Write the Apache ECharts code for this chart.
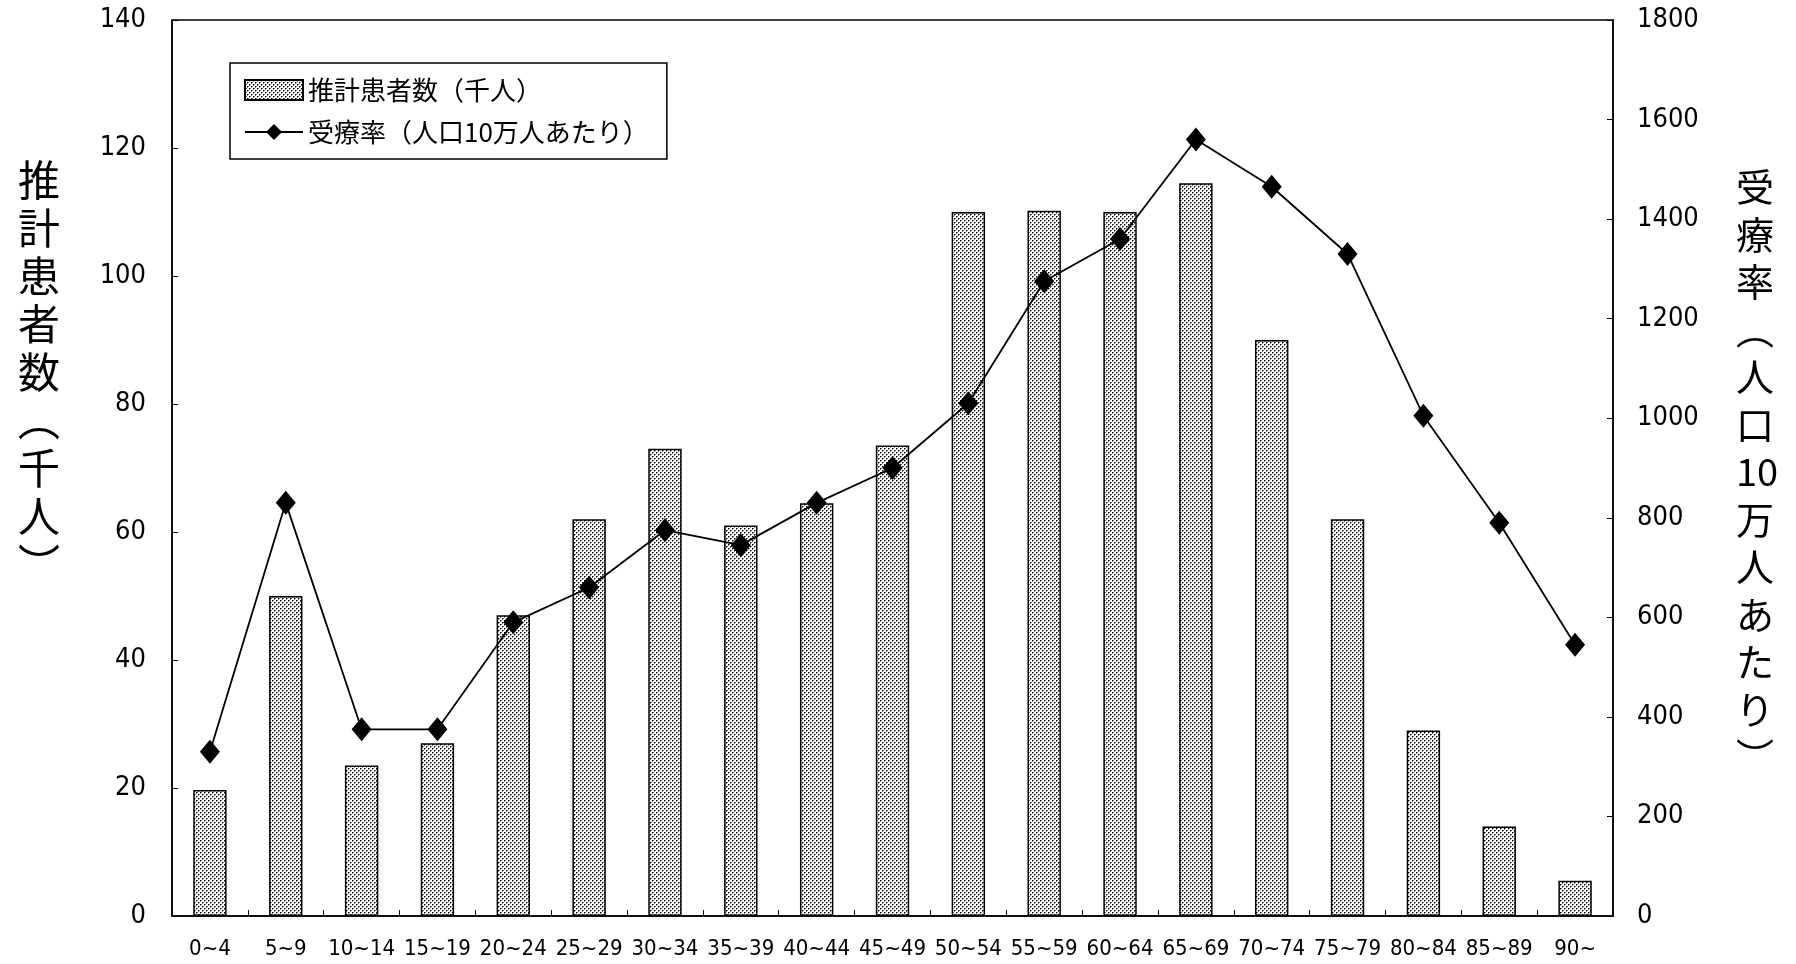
<!DOCTYPE html>
<html>
<head>
<meta charset="utf-8">
<script src="https://cdn.jsdelivr.net/npm/echarts@6/dist/echarts.min.js"></script>
<style>
html,body{margin:0;padding:0;background:#fff;}
#chart{width:1796px;height:964px;}
</style>
</head>
<body>
<div id="chart"></div>
<script>
// ---- data ----
const categories = ['0~4','5~9','10~14','15~19','20~24','25~29','30~34','35~39','40~44','45~49','50~54','55~59','60~64','65~69','70~74','75~79','80~84','85~89','90~'];
const patients = [19.7, 50, 23.5, 27, 47, 62, 73, 61, 64.5, 73.5, 110, 110.2, 110, 114.5, 90, 62, 29, 14, 5.5];
const rates = [330, 830, 375, 375, 590, 660, 775, 745, 830, 900, 1030, 1275, 1360, 1560, 1465, 1330, 1005, 790, 545];
const leftTicks = {min: 0, max: 140, interval: 20};
const rightTicks = {min: 0, max: 1800, interval: 200};
const seriesNames = ['推計患者数（千人）', '受療率（人口10万人あたり）'];
const leftTitle = ['推','計','患','者','数','︵','千','人','︶'];
const rightTitle = ['受','療','率','︵','人','口','10','万','人','あ','た','り','︶'];

// ---- dotted pattern ----
const pc = document.createElement('canvas');
pc.width = 4; pc.height = 4;
const pctx = pc.getContext('2d');
pctx.fillStyle = '#ffffff';
pctx.fillRect(0, 0, 4, 4);
pctx.fillStyle = '#000000';
pctx.fillRect(0, 0, 1, 1);
pctx.fillRect(2, 2, 1, 1);
pctx.fillStyle = '#777777';
pctx.fillRect(1, 0, 1, 1);
pctx.fillRect(3, 2, 1, 1);
pctx.fillRect(0, 1, 1, 1);
pctx.fillRect(2, 3, 1, 1);

const numFont = '"Liberation Sans Narrow", "DejaVu Sans Condensed", "Liberation Sans", sans-serif';
const jpFont = '"Noto Sans CJK JP", sans-serif';

const chart = echarts.init(document.getElementById('chart'), null, {renderer: 'canvas'});
chart.setOption({
  backgroundColor: '#ffffff',
  animation: false,
  grid: {left: 172, right: 183, top: 20, bottom: 48, show: true, borderColor: '#000', borderWidth: 1.5, backgroundColor: 'transparent'},
  legend: {
    orient: 'vertical',
    left: 230, top: 63,
    borderColor: '#000', borderWidth: 1.5,
    padding: [14, 18, 14, 14],
    itemGap: 16,
    itemWidth: 58, itemHeight: 20,
    textStyle: {fontFamily: jpFont, fontSize: 26, color: '#000'},
    data: [
      {name: seriesNames[0], icon: 'rect'},
      {name: seriesNames[1]}
    ]
  },
  xAxis: {
    type: 'category',
    data: categories,
    axisLine: {lineStyle: {color: '#000', width: 1.5}},
    axisTick: {show: true, inside: true, length: 6, lineStyle: {color: '#000'}},
    axisLabel: {interval: 0, fontFamily: numFont, fontSize: 22, color: '#000', margin: 22}
  },
  yAxis: [
    {
      type: 'value', position: 'left',
      min: leftTicks.min, max: leftTicks.max, interval: leftTicks.interval,
      axisLine: {show: true, lineStyle: {color: '#000', width: 1.5}},
      axisTick: {show: true, inside: true, length: 6, lineStyle: {color: '#000'}},
      axisLabel: {fontFamily: numFont, fontSize: 27, color: '#000', margin: 26, formatter: v => String(v)},
      splitLine: {show: false}
    },
    {
      type: 'value', position: 'right',
      min: rightTicks.min, max: rightTicks.max, interval: rightTicks.interval,
      axisLine: {show: true, lineStyle: {color: '#000', width: 1.5}},
      axisTick: {show: true, inside: true, length: 6, lineStyle: {color: '#000'}},
      axisLabel: {fontFamily: numFont, fontSize: 27, color: '#000', margin: 24, formatter: v => String(v)},
      splitLine: {show: false}
    }
  ],
  series: [
    {
      name: seriesNames[0],
      type: 'bar',
      yAxisIndex: 0,
      data: patients,
      barWidth: '44%',
      itemStyle: {color: {image: pc, repeat: 'repeat'}, borderColor: '#000', borderWidth: 1.5}
    },
    {
      name: seriesNames[1],
      type: 'line',
      yAxisIndex: 1,
      data: rates,
      symbol: 'diamond',
      symbolSize: [20, 24],
      lineStyle: {color: '#000', width: 1.8},
      itemStyle: {color: '#000'}
    }
  ],
  graphic: [
    {
      type: 'text', left: 18, top: 156,
      style: {text: leftTitle.join('\n'), fontFamily: jpFont, fontSize: 42, lineHeight: 48, fill: '#000', align: 'center'}
    },
    {
      type: 'text', left: 1736, top: 163,
      style: {text: rightTitle.join('\n'), fontFamily: jpFont, fontSize: 38, lineHeight: 47.5, fill: '#000', align: 'center'}
    }
  ]
});
</script>
</body>
</html>
